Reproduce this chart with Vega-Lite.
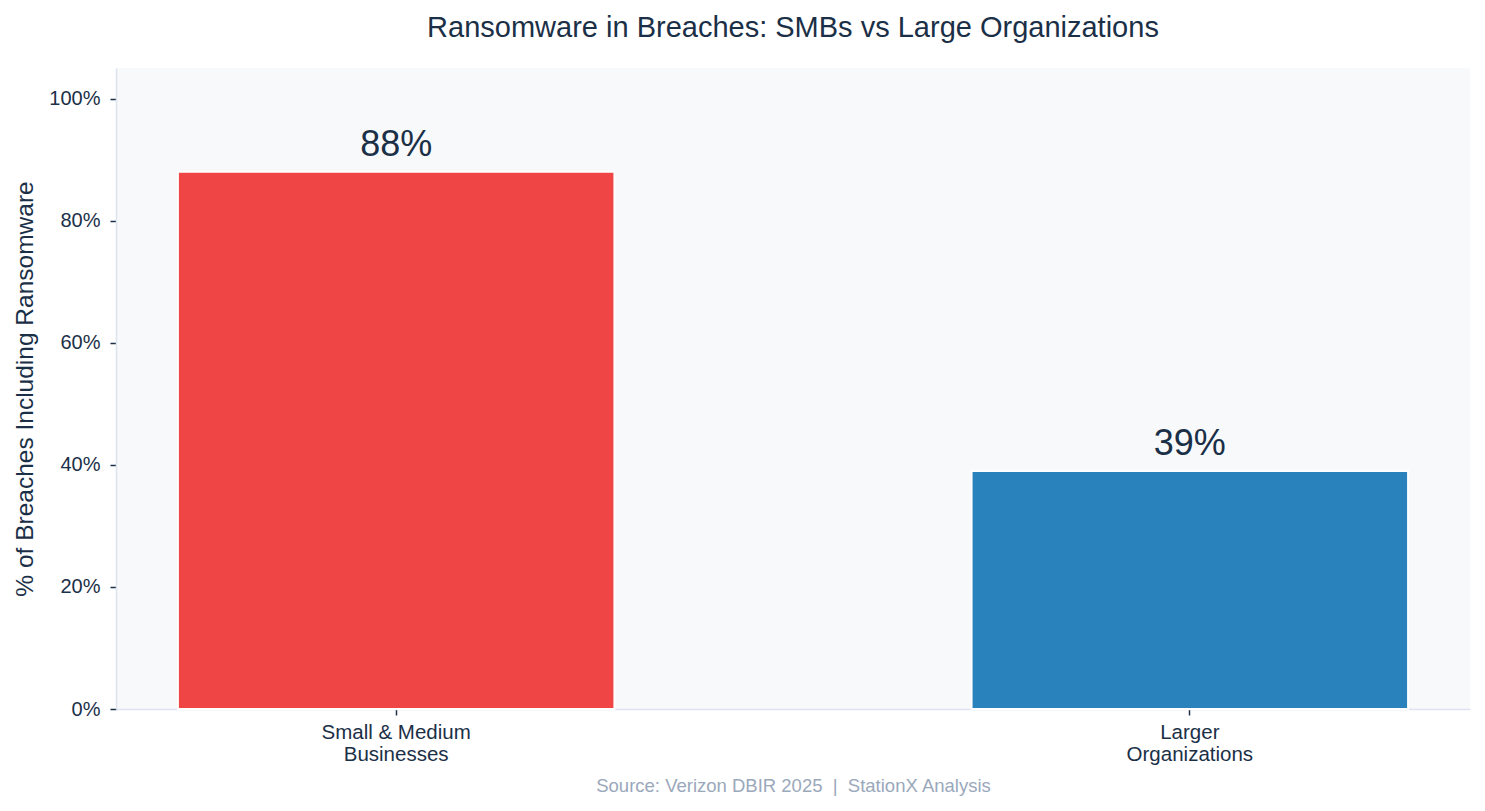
{
  "$schema": "https://vega.github.io/schema/vega-lite/v6.json",
  "autosize": {"type": "none"},
  "width": 1354,
  "height": 641,
  "padding": {"left": 116, "top": 68, "right": 15, "bottom": 102},
  "background": "white",
  "config": {
    "font": "Liberation Sans",
    "view": {"fill": "#f8f9fb", "stroke": null}
  },
  "title": {
    "text": "Ransomware in Breaches: SMBs vs Large Organizations",
    "fontSize": 29,
    "fontWeight": "normal",
    "color": "#1b3047",
    "anchor": "middle",
    "frame": "group",
    "offset": 25
  },
  "data": {
    "values": [
      {"group": "Small & Medium\nBusinesses", "pct": 88, "label": "88%"},
      {"group": "Larger\nOrganizations", "pct": 39, "label": "39%"}
    ]
  },
  "encoding": {
    "x": {
      "field": "group",
      "type": "nominal",
      "sort": null,
      "scale": {"paddingInner": 0.45, "paddingOuter": 0.078},
      "axis": {
        "title": "Source: Verizon DBIR 2025\u00a0\u00a0|\u00a0\u00a0StationX Analysis",
        "titleColor": "#9aa8bb",
        "titleFontSize": 18.5,
        "titleFontWeight": "normal",
        "titlePadding": 12,
        "labelAngle": 0,
        "labelExpr": "split(datum.label, '\\n')",
        "labelFontSize": 20.5,
        "labelLineHeight": 22,
        "labelColor": "#1b3047",
        "labelPadding": 7,
        "domainColor": "#dde4ee",
        "domainWidth": 1.5,
        "tickColor": "#1b3047",
        "tickWidth": 1.5,
        "tickSize": 6
      }
    },
    "y": {
      "field": "pct",
      "type": "quantitative",
      "scale": {"domain": [0, 105], "nice": false},
      "axis": {
        "title": "% of Breaches Including Ransomware",
        "titleColor": "#1b3047",
        "titleFontSize": 24.5,
        "titleFontWeight": "normal",
        "titlePadding": 11,
        "values": [0, 20, 40, 60, 80, 100],
        "labelExpr": "datum.value + '%'",
        "labelFontSize": 20,
        "labelColor": "#1b3047",
        "labelPadding": 10,
        "grid": false,
        "domainColor": "#dde4ee",
        "domainWidth": 1.5,
        "tickColor": "#1b3047",
        "tickWidth": 1.5,
        "tickSize": 6
      }
    }
  },
  "layer": [
    {
      "mark": {"type": "bar", "stroke": "white", "strokeWidth": 2},
      "encoding": {
        "color": {
          "field": "group",
          "type": "nominal",
          "scale": {"domain": ["Small & Medium\nBusinesses", "Larger\nOrganizations"], "range": ["#ef4545", "#2a82bc"]},
          "legend": null
        }
      }
    },
    {
      "mark": {"type": "text", "baseline": "alphabetic", "dy": -16, "fontSize": 36, "color": "#1b3047"},
      "encoding": {
        "text": {"field": "label"}
      }
    }
  ]
}
